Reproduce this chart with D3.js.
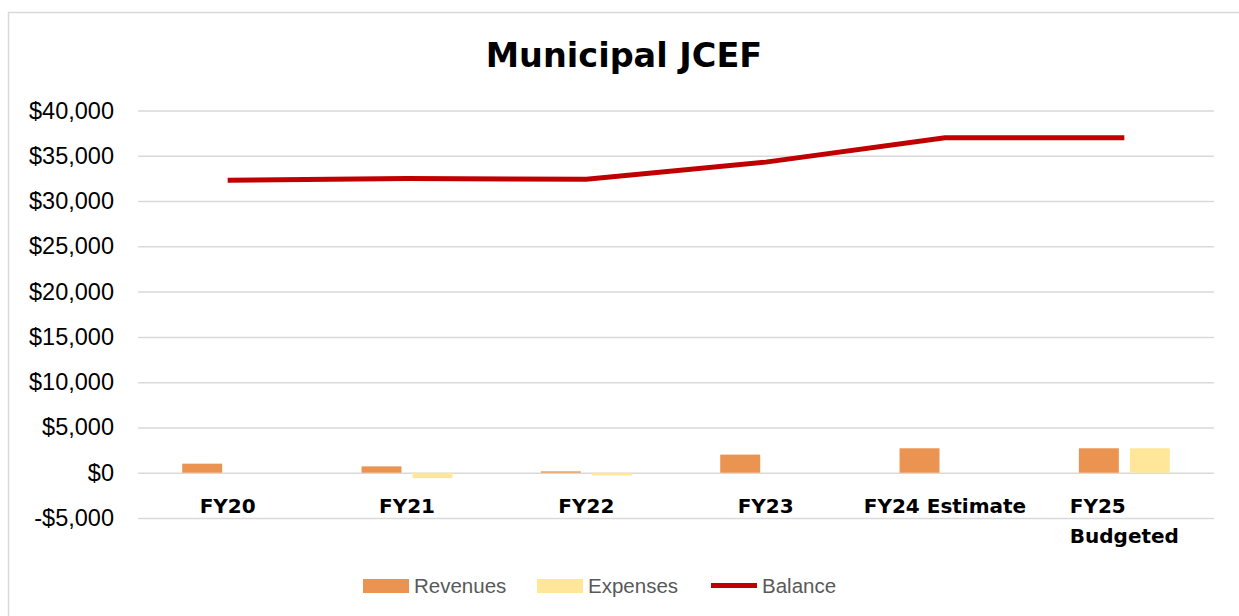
<!DOCTYPE html>
<html>
<head>
<meta charset="utf-8">
<script src="https://cdnjs.cloudflare.com/ajax/libs/d3/7.8.5/d3.min.js"></script>
<style>
	body { margin: 0; background: #fff; }
	svg { display: block; }
</style>
</head>
<body>
<script>

// Municipal JCEF - revenues / expenses bars with balance line

var categories = ['FY20', 'FY21', 'FY22', 'FY23', 'FY24 Estimate', 'FY25 Budgeted'];
var revenues = [1000, 700, 150, 2000, 2700, 2700];
var expenses = [0, -600, -300, 0, 0, 2700];
var balance = [32300, 32500, 32400, 34300, 37000, 37000];
var yTicks = [-5000, 0, 5000, 10000, 15000, 20000, 25000, 30000, 35000, 40000];
var seriesNames = ['Revenues', 'Expenses', 'Balance'];

(function(){

	var w = 1239;
	var h = 616;
	var left = 138, right = 1214, top = 110.5, bottom = 518;

	var colors = { Revenues: '#EB9350', Expenses: '#FFE699', Balance: '#C00000' };

	var svg = d3.select('body')
							.append('svg')
							.attr('width', w)
							.attr('height', h);

	// chart frame
	svg.append('rect')
		.attr('x', 8.5)
		.attr('y', 12.5)
		.attr('width', 1260)
		.attr('height', 640)
		.attr('fill', 'none')
		.attr('stroke', '#d9d9d9')
		.attr('stroke-width', 1.5);

	svg.append('text')
		.attr('x', 624)
		.attr('y', 67)
		.attr('text-anchor', 'middle')
		.style('font-family', 'DejaVu Sans')
		.style('font-weight', 'bold')
		.style('font-size', '33.5px')
		.attr('fill', '#000')
		.text('Municipal JCEF');

	var x0 = d3.scaleBand()
		.domain(categories)
		.range([left, right]);

	var x1 = d3.scaleBand()
		.domain(['Revenues', 'Expenses'])
		.range([0, x0.bandwidth()])
		.paddingInner(0.216)
		.paddingOuter(0.868);

	var y = d3.scaleLinear()
		.domain([-5000, 40000])
		.range([bottom, top]);

	var fmt = function(v){
		return (v < 0 ? '-' : '') + '$' + d3.format(',')(Math.abs(v));
	};

	var yAxis = svg.append('g')
		.attr('transform', 'translate(' + left + ',0)')
		.call(d3.axisLeft(y)
			.tickValues(yTicks)
			.tickSize(-(right - left))
			.tickPadding(24)
			.tickFormat(fmt));

	yAxis.select('.domain').remove();
	yAxis.selectAll('line')
		.attr('stroke', '#d9d9d9')
		.attr('stroke-width', 1.5);
	yAxis.selectAll('text')
		.style('font-family', 'Liberation Sans, Arial')
		.style('font-size', '23.5px')
		.attr('fill', '#000');

	// bars
	var barData = [];
	categories.forEach(function(c, i){
		barData.push({ cat: c, key: 'Revenues', v: revenues[i] });
		barData.push({ cat: c, key: 'Expenses', v: expenses[i] });
	});

	svg.append('g').selectAll('rect')
		.data(barData)
		.enter()
		.append('rect')
		.attr('x', function(d){
			return x0(d.cat) + x1(d.key);
		})
		.attr('y', function(d){
			return y(Math.max(0, d.v));
		})
		.attr('width', x1.bandwidth())
		.attr('height', function(d){
			return Math.abs(y(d.v) - y(0));
		})
		.attr('fill', function(d){
			return colors[d.key];
		});

	// balance line
	var line = d3.line()
		.x(function(d, i){
			return x0(categories[i]) + x0.bandwidth() / 2;
		})
		.y(function(d){
			return y(d);
		});

	svg.append('path')
		.datum(balance)
		.attr('d', line)
		.attr('fill', 'none')
		.attr('stroke', colors.Balance)
		.attr('stroke-width', 5);

	// category labels, wrapped like excel
	var labels = svg.append('g').selectAll('text')
		.data(categories)
		.enter()
		.append('text')
		.style('font-family', 'DejaVu Sans')
		.style('font-weight', 'bold')
		.style('font-size', '20px')
		.attr('fill', '#000');

	labels.each(function(c){
		var t = d3.select(this);
		var cx = x0(c) + x0.bandwidth() / 2;
		var lines = (c === 'FY25 Budgeted') ? ['FY25', 'Budgeted'] : [c];
		lines.forEach(function(s, k){
			t.append('tspan')
				.attr('y', 513 + k * 30)
				.text(s);
		});
		if(lines.length === 1){
			t.attr('text-anchor', 'middle').selectAll('tspan').attr('x', cx);
		} else {
			var widest = d3.max(t.selectAll('tspan').nodes(), function(n){
				return n.getComputedTextLength();
			});
			t.attr('text-anchor', 'start').selectAll('tspan').attr('x', cx - widest / 2);
		}
	});

	// legend
	var legend = svg.append('g');
	var legendX = [363, 537, 711];
	seriesNames.forEach(function(s, i){
		if(s === 'Balance'){
			legend.append('line')
				.attr('x1', legendX[i])
				.attr('x2', legendX[i] + 46)
				.attr('y1', 585.5)
				.attr('y2', 585.5)
				.attr('stroke', colors[s])
				.attr('stroke-width', 5);
		} else {
			legend.append('rect')
				.attr('x', legendX[i])
				.attr('y', 579)
				.attr('width', 46)
				.attr('height', 14)
				.attr('fill', colors[s]);
		}
		legend.append('text')
			.attr('x', legendX[i] + 51)
			.attr('y', 593)
			.style('font-family', 'Liberation Sans, Arial')
			.style('font-size', '20.5px')
			.attr('fill', '#595959')
			.text(s);
	});

})();

</script>
</body>
</html>
